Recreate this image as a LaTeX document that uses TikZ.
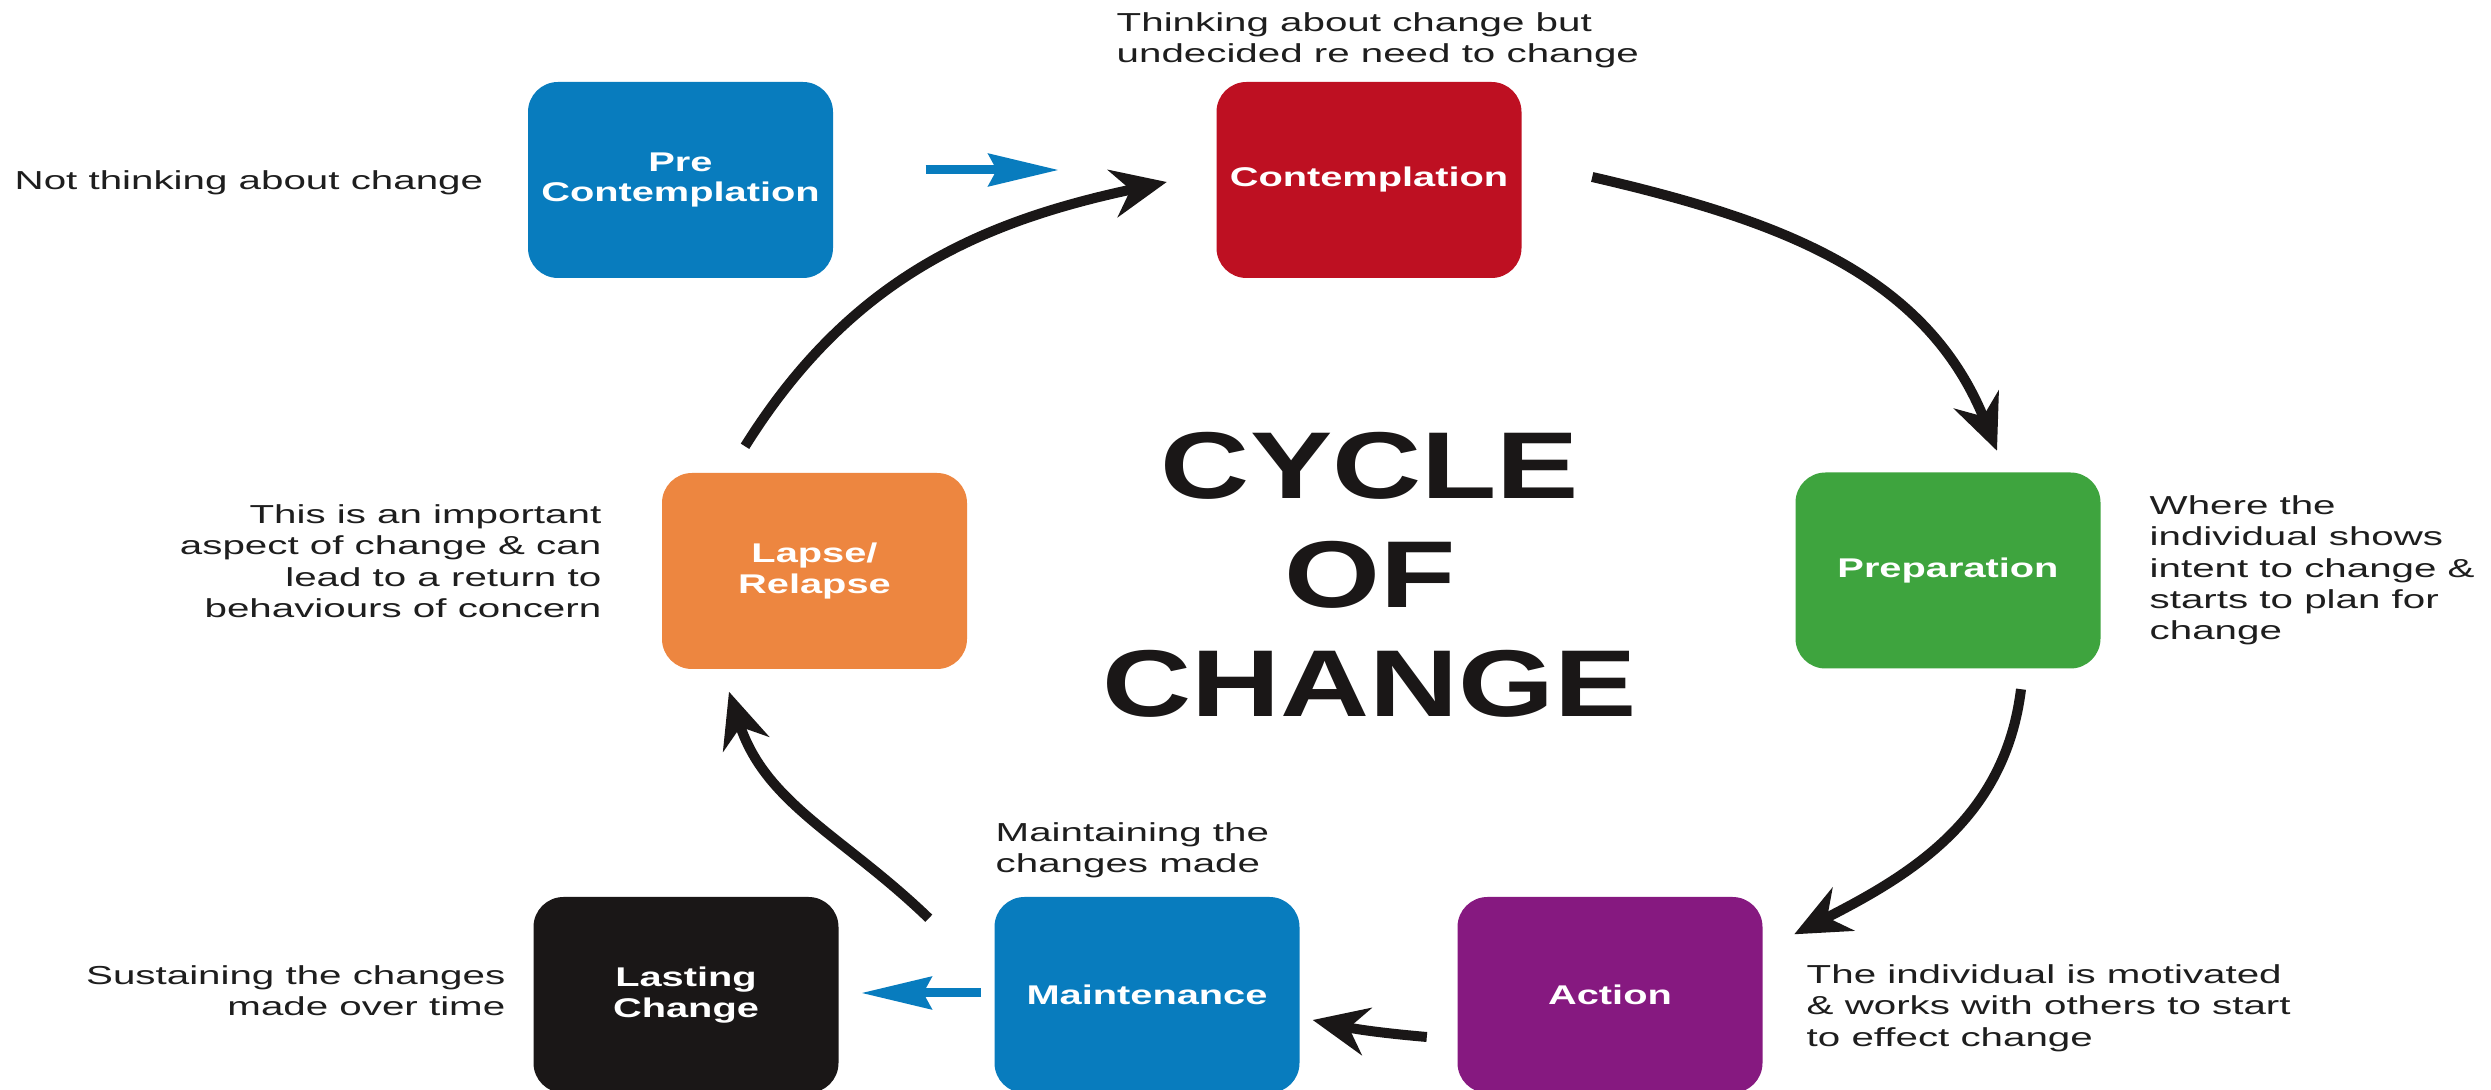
\documentclass[tikz,border=0pt]{standalone}
\usepackage{fontspec}
\usetikzlibrary{arrows.meta}
\setmainfont{Liberation Sans}
\newfontfamily\annfont{Liberation Sans}[FakeStretch=1.55]
\newfontfamily\boxfont{Liberation Sans}[FakeStretch=1.47]
\newfontfamily\titlefont{Liberation Sans}[FakeStretch=1.3]
\definecolor{cblue}{RGB}{8,124,190}
\definecolor{cred}{RGB}{190,16,34}
\definecolor{cgreen}{RGB}{62,164,62}
\definecolor{cpurple}{RGB}{134,25,128}
\definecolor{cblack}{RGB}{26,23,23}
\definecolor{corange}{RGB}{237,134,64}
\definecolor{ctext}{RGB}{30,30,30}
\tikzset{
  stage/.style={rounded corners=3mm, minimum width=30.5mm, minimum height=19.6mm,
    inner sep=0pt, text=white, align=center,
    font=\boxfont\bfseries\fontsize{7.7}{8.8}\selectfont},
  ann/.style={inner sep=0pt, text=ctext, font=\annfont\fontsize{7.4}{8.9}\selectfont},
  titletext/.style={inner sep=0pt, text=cblack, align=center,
    font=\titlefont\bfseries\fontsize{27}{31}\selectfont},
  cyc/.style={line width=1mm, draw=cblack,
    -{Stealth[length=5.5mm,width=4.8mm,inset=1.8mm]}},
  flow/.style={line width=0.9mm, draw=cblue,
    -{Stealth[length=7mm,width=3.2mm,inset=0.8mm]}}
}
\begin{document}
\begin{tikzpicture}[x=0.1mm,y=0.1mm]
\path[use as bounding box, fill=white] (0,0) rectangle (2491,1090);
\clip (0,0) rectangle (2491,1090);

% stages
\node[stage, fill=cblue]   (pre)   at (680.5,910) {Pre\\Contemplation};
\node[stage, fill=cred]    (cont)  at (1369,910)  {Contemplation};
\node[stage, fill=cgreen]  (prep)  at (1948,519.5) {Preparation};
\node[stage, fill=corange] (lapse) at (814.5,519) {Lapse/\\Relapse};
\node[stage, fill=cblack]  (last)  at (686,95)    {Lasting\\Change};
\node[stage, fill=cblue]   (maint) at (1147,95)   {Maintenance};
\node[stage, fill=cpurple] (act)   at (1610,95)   {Action};

% title
\node[titletext, anchor=north] (title) at (1370,658) {CYCLE\\OF\\CHANGE};

% annotations
\node[ann, anchor=north west, align=left] (n1) at (14,920) {Not thinking about change};
\node[ann, anchor=north west, align=left] (n2) at (1116,1078) {Thinking about change but\\undecided re need to change};
\node[ann, anchor=north west, align=left] (n3) at (2149,595) {Where the\\individual shows\\intent to change \&\\starts to plan for\\change};
\node[ann, anchor=north east, align=right] (n4) at (602,586) {This is an important\\aspect of change \& can\\lead to a return to\\behaviours of concern};
\node[ann, anchor=north west, align=left] (n5) at (995,268) {Maintaining the\\changes made};
\node[ann, anchor=north east, align=right] (n6) at (506,125) {Sustaining the changes\\made over time};
\node[ann, anchor=north west, align=left] (n7) at (1806,126) {The individual is motivated\\\& works with others to start\\to effect change};

% blue arrows
\draw[flow, shorten <=9.2mm, shorten >=15.7mm] ([yshift=1mm]pre.east) -- ([yshift=1mm]cont.west);
\draw[flow, shorten <=1.3mm, shorten >=2.2mm] ([yshift=0.2mm]maint.west) -- ([yshift=0.2mm]last.east);

% cycle arrows
\draw[cyc] ([shift={(-69.5,26)}]lapse.north) to[out=58,in=192] ([shift={(-49,-2)}]cont.west);
\draw[cyc] ([shift={(70,3)}]cont.east) to[out=-13,in=112] ([shift={(49,21)}]prep.north);
\draw[cyc] ([shift={(73,-20)}]prep.south) to[out=-97,in=27] ([shift={(31,-38)}]act.north east);
\draw[cyc] ([shift={(-30,-42)}]act.west) to[out=175,in=-12] ([shift={(12.5,-25)}]maint.east);
\draw[cyc] ([shift={(-65,-22)}]maint.north west) to[out=136,in=-72] ([shift={(-85.5,-22)}]lapse.south);
\end{tikzpicture}
\end{document}
